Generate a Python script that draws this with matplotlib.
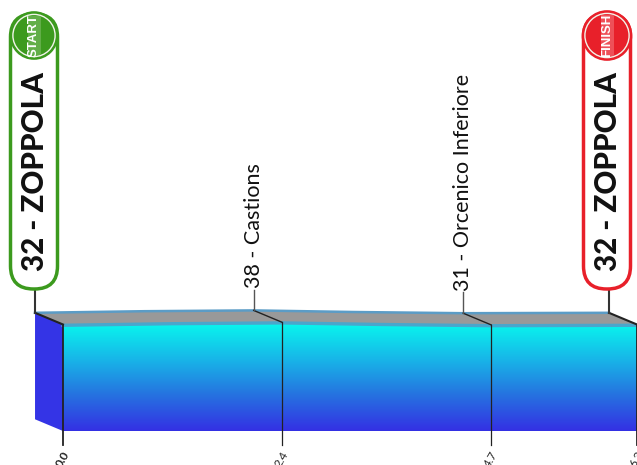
import matplotlib
matplotlib.use("Agg")
import matplotlib.pyplot as plt
from matplotlib.colors import LinearSegmentedColormap
from matplotlib.patches import Circle, FancyBboxPatch, Polygon, Rectangle
import numpy as np

plt.rcParams['font.family'] = ['Lato', 'DejaVu Sans']

# profile
profile_km = [0.0, 1.2, 2.4, 3.5, 4.7, 6.3]
profile_alt = [32, 36, 38, 34, 31, 32]

places_km = [2.4, 4.7]
places_alt = [38, 31]
places = ["38 - Castions", "31 - Orcenico Inferiore"]

tick_km = [0.0, 2.4, 4.7, 6.3]
tick_labels = ["0.0", "2.4", "4.7", "6.3"]

start_label = "32 - ZOPPOLA"
finish_label = "32 - ZOPPOLA"
start_alt = 32
finish_alt = 32

# 3d look: how far the back edge sits from the front edge
depth_x = -0.307
depth_y = 29.25
base_alt = -234.25
x_range = (-0.6915, 6.3007)
y_range = (-319.25, 843.25)

fig = plt.figure(figsize=(6.37, 4.65), dpi=100)
ax = fig.add_axes([0, 0, 1, 1])
ax.axis("off")

km = np.array(profile_km)
alt = np.array(profile_alt)

# front face with gradient
cmap = LinearSegmentedColormap.from_list(
    "face", [(0, "#3430e4"), (0.35, "#2576e0"), (0.65, "#18b4e8"), (1, "#08f8ee")])
face = Polygon(list(zip(km, alt)) + [(km[-1], base_alt), (km[0], base_alt)], closed=True,
               transform=ax.transData, facecolor="none", edgecolor="none")
ax.add_patch(face)
grad = np.linspace(0, 1, 256).reshape(-1, 1)
im = ax.imshow(grad, origin="lower", aspect="auto", cmap=cmap,
               extent=[km[0], km[-1], base_alt, alt.max()], zorder=1)
im.set_clip_path(face)
ax.set_xlim(*x_range)
ax.set_ylim(*y_range)

# left side
ax.fill([km[0] + depth_x, km[0], km[0], km[0] + depth_x],
        [alt[0] + depth_y, alt[0], base_alt, base_alt + depth_y],
        color="#3434e6", lw=0, zorder=2)

# road surface
ax.fill(np.r_[km, km[::-1] + depth_x], np.r_[alt, alt[::-1] + depth_y],
        color="#999999", lw=0, zorder=2)
ax.plot(km + depth_x, alt + depth_y, color="#5b9cc6", lw=1.8, zorder=3)
ax.plot(km, alt - 2, color="#4aa6cc", lw=2.4, zorder=3)

# vertical km lines and labels
for k, lab in zip(tick_km, tick_labels):
    a = np.interp(k, km, alt)
    end = k in (0.0, 6.3)
    ax.plot([k + depth_x, k], [a + depth_y, a], color="#222222", lw=1.5 if end else 1.0, zorder=4)
    ax.plot([k, k], [a, base_alt - 35], color="#222222", lw=1.3 if end else 0.9, zorder=4,
            clip_on=False)
    ax.text(k - 0.01, base_alt - 45, lab, rotation=60, ha="right", va="top", fontsize=8.5,
            fontweight="bold" if k == 0.0 else "normal",
            color="#222222", rotation_mode="anchor", zorder=5)

# intermediate places
for k, a, name in zip(places_km, places_alt, places):
    ax.plot([k + depth_x] * 2, [a + depth_y, a + depth_y + 52], color="#555555", lw=1.0, zorder=4)
    ax.text(k + depth_x, a + depth_y + 56, name, rotation=90, ha="center", va="bottom",
            fontsize=15.5, color="#111111", zorder=5)

# start and finish leaders
ax.plot([km[0] + depth_x] * 2, [start_alt + depth_y, start_alt + depth_y + 60],
        color="#333333", lw=1.5, zorder=4)
ax.plot([km[-1] + depth_x] * 2, [finish_alt + depth_y, finish_alt + depth_y + 60],
        color="#333333", lw=1.5, zorder=4)

# pills are drawn on a pixel overlay
pix = fig.add_axes([0, 0, 1, 1])
pix.set_xlim(0, 637)
pix.set_ylim(465, 0)
pix.axis("off")
pix.patch.set_alpha(0)


def badge(cx, r, color, strip, word, label):
    pix.add_patch(FancyBboxPatch((cx - 23.5, 14), 47, 275, boxstyle="round,pad=0,rounding_size=23",
                                 facecolor="white", edgecolor=color, lw=2.5))
    pix.add_patch(Circle((cx, 35.5), r, facecolor=color, edgecolor=color, lw=1.2))
    pix.add_patch(Circle((cx, 35.5), r - 2.4, facecolor=color, edgecolor="#f2f4ea", lw=1.0))
    pix.add_patch(Rectangle((cx - 6.5, 35.5 - r + 4), 13, 2 * r - 8, facecolor=strip, lw=0))
    pix.text(cx, 35.5, word, rotation=90, color="white", fontsize=9.5, fontweight="bold",
             ha="center", va="center", family=["Liberation Sans Narrow", "Liberation Sans"])
    pix.text(cx + 1, 271, label, rotation=90, color="#111111", fontsize=21.3, fontweight="black",
             ha="center", va="bottom")


badge(34, 23.5, "#3c9a1e", "#62ae48", "START", start_label)
badge(607, 24.5, "#e8202a", "#ee5058", "FINISH", finish_label)

fig.savefig("out.png", dpi=100)
